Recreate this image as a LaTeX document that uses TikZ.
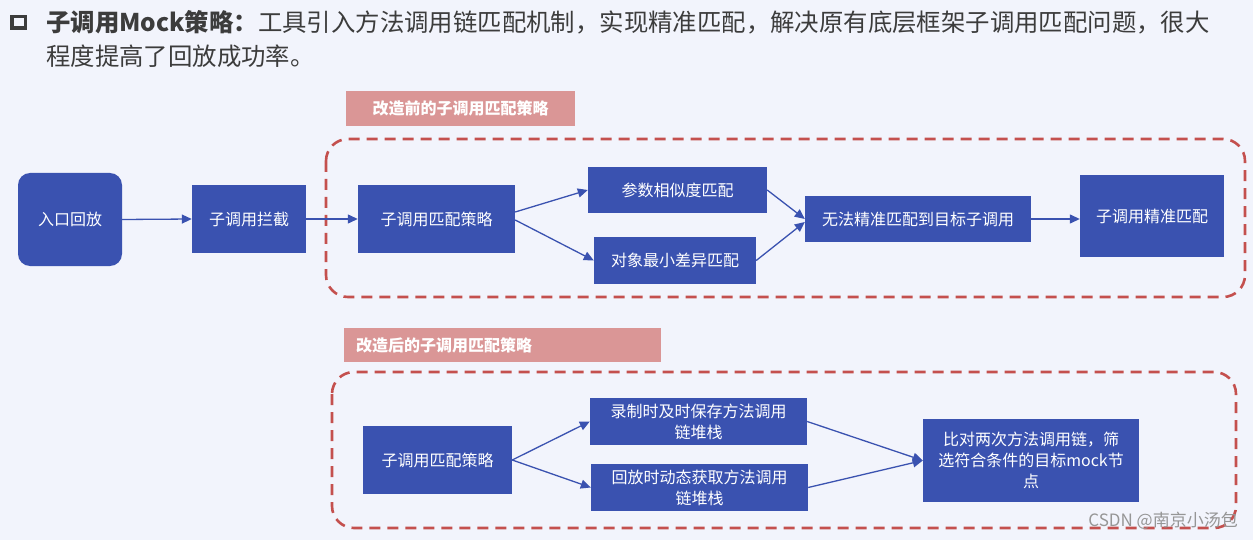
\documentclass[tikz,border=0pt]{standalone}
\usepackage{fontspec}
\setmainfont{Noto Sans CJK SC}
\usetikzlibrary{arrows.meta}
\definecolor{bg}{RGB}{242,244,252}
\definecolor{boxblue}{RGB}{58,82,176}
\definecolor{dashred}{RGB}{196,80,78}
\definecolor{pinklab}{RGB}{218,150,150}
\definecolor{headtxt}{RGB}{60,60,60}
\definecolor{wmark}{RGB}{150,150,150}
\tikzset{
  bbox/.style={fill=boxblue, text=white, inner sep=0pt, align=center,
    font=\fontsize{16}{21}\selectfont},
  plab/.style={fill=pinklab, text=white, inner sep=0pt,
    font=\fontsize{16}{20}\selectfont\bfseries},
  dbox/.style={draw=dashred, line width=2.6pt, dash pattern=on 11pt off 7pt, rounded corners=22pt},
  arr/.style={draw=boxblue, line width=1.3pt, -{Triangle[length=10pt,width=9pt]}},
}
\begin{document}
\begin{tikzpicture}[x=1pt,y=-1pt]
\fill[bg] (0,0) rectangle (1253,540);
\useasboundingbox (0,0) rectangle (1253,540);
% header
\draw[headtxt, line width=3.5pt] (11.75,16.75) rectangle (25.25,28.25);
\node[anchor=west, inner sep=0pt, text=headtxt, font=\fontsize{24.4}{28}\selectfont] (h1) at (46,22)
  {\textbf{子调用Mock策略：}工具引入方法调用链匹配机制，实现精准匹配，解决原有底层框架子调用匹配问题，很大};
\node[anchor=west, inner sep=0pt, text=headtxt, font=\fontsize{24.4}{28}\selectfont] (h2) at (46,56)
  {程度提高了回放成功率。};
% top section
\node[plab, minimum width=229pt, minimum height=35pt] (lab1) at (460.5,108.5) {改造前的子调用匹配策略};
\draw[dbox] (326,139) rectangle (1245,297);
\node[bbox, rounded corners=12pt, minimum width=104pt, minimum height=93pt] (entry) at (70,219.5) {入口回放};
\node[bbox, minimum width=114pt, minimum height=68pt] (icpt) at (249,219) {子调用拦截};
\node[bbox, minimum width=157pt, minimum height=68pt] (s1) at (436.5,219) {子调用匹配策略};
\node[bbox, minimum width=179pt, minimum height=46pt] (param) at (677.5,190) {参数相似度匹配};
\node[bbox, minimum width=162pt, minimum height=47pt] (obj) at (675,260.5) {对象最小差异匹配};
\node[bbox, minimum width=226pt, minimum height=46pt] (nom) at (918,219) {无法精准匹配到目标子调用};
\node[bbox, minimum width=144pt, minimum height=82pt] (exact) at (1152,216) {子调用精准匹配};
\draw[arr] (entry.east) -- (icpt.west);
\draw[arr] (icpt.east) -- (s1.west);
\draw[arr] ([yshift=7pt]s1.east) -- (param.west);
\draw[arr] ([yshift=-1pt]s1.east) -- (obj.west);
\draw[arr] (param.east) -- (nom.west);
\draw[arr] (obj.east) -- ([yshift=-3pt]nom.west);
\draw[arr] (nom.east) -- (exact.west |- nom.east);
% bottom section
\node[plab, minimum height=34pt, text width=293pt, inner xsep=12pt, align=left] (lab2) at (502.5,345) {改造后的子调用匹配策略};
\draw[dbox] (332,372) rectangle (1236,528);
\node[bbox, minimum width=149pt, minimum height=68pt] (s2) at (437.5,460) {子调用匹配策略};
\node[bbox, minimum width=217pt, minimum height=47pt] (rec) at (698.5,421.5) {录制时及时保存方法调用\\链堆栈};
\node[bbox, minimum width=217pt, minimum height=47pt] (rep) at (699.5,487.5) {回放时动态获取方法调用\\链堆栈};
\node[bbox, minimum width=216pt, minimum height=83pt] (cmp) at (1031,460.5) {比对两次方法调用链，筛\\选符合条件的目标mock节\\点};
\draw[arr] (s2.east) -- (rec.west);
\draw[arr] (s2.east) -- (rep.west);
\draw[arr] (rec.east) -- (cmp.west);
\draw[arr] (rep.east) -- (cmp.west);
\node[anchor=east, inner sep=0pt, text=wmark, font=\fontsize{17}{20}\selectfont] (wm) at (1238,521) {CSDN @南京小汤包};
\end{tikzpicture}
\end{document}
